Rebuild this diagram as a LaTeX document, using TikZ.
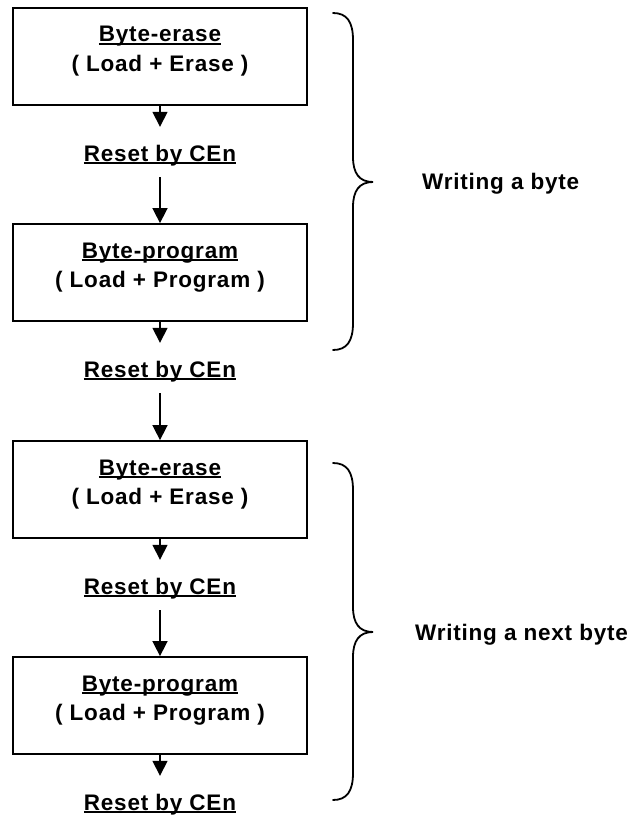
\documentclass[tikz,border=0pt]{standalone}
\usepackage{fontspec}
\setmainfont{Liberation Sans}[LetterSpace=3.5]
\usetikzlibrary{arrows.meta}
\newcommand\myul[1]{\setbox0\hbox{#1}\rlap{\rule[-3pt]{\wd0}{2pt}}\box0}
\begin{document}
\begin{tikzpicture}[x=1pt,y=-1pt,
  every node/.style={font=\fontsize{22.5}{29}\selectfont\bfseries},
  stepbox/.style={draw, line width=1.8pt, minimum width=294pt, minimum height=97pt, inner sep=0pt},
  txtline/.style={anchor=base, inner sep=0pt},
  resetlbl/.style={anchor=base, inner sep=0pt, text height=17pt, text depth=5pt},
  arr/.style={line width=1.6pt, -{Triangle[width=15pt,length=15pt]}},
  bracepath/.style={line width=1.8pt, line cap=round}]
\useasboundingbox (0,0) rectangle (628,816);

% first group
\node[stepbox] (b1) at (160,56.5) {};
\node[txtline] (b1a) at (160,42) {\myul{Byte-erase}};
\node[txtline] (b1b) at (160,71) {( Load + Erase )};
\node[resetlbl] (r1) at (160,161) {\myul{Reset by CEn}};

\node[stepbox] (b2) at (160,272.5) {};
\node[txtline] (b2a) at (160,258) {\myul{Byte-program}};
\node[txtline] (b2b) at (160,287) {( Load + Program )};
\node[resetlbl] (r2) at (160,377) {\myul{Reset by CEn}};

% second group
\node[stepbox] (b3) at (160,489.5) {};
\node[txtline] (b3a) at (160,475) {\myul{Byte-erase}};
\node[txtline] (b3b) at (160,504) {( Load + Erase )};
\node[resetlbl] (r3) at (160,594) {\myul{Reset by CEn}};

\node[stepbox] (b4) at (160,705.5) {};
\node[txtline] (b4a) at (160,691) {\myul{Byte-program}};
\node[txtline] (b4b) at (160,720) {( Load + Program )};
\node[resetlbl] (r4) at (160,810) {\myul{Reset by CEn}};

% connectors
\draw[arr, shorten >=17pt] (b1) -- (r1);
\draw[arr, shorten <=11pt] (r1) -- (b2);
\draw[arr, shorten >=17pt] (b2) -- (r2);
\draw[arr, shorten <=11pt] (r2) -- (b3);
\draw[arr, shorten >=17pt] (b3) -- (r3);
\draw[arr, shorten <=11pt] (r3) -- (b4);
\draw[arr, shorten >=17pt] (b4) -- (r4);

% braces
\draw[bracepath] (333,13) .. controls (347,13) and (353,22) .. (353,40) -- (353,157)
  .. controls (353,173) and (359,182) .. (373,182)
  .. controls (359,182) and (353,191) .. (353,207) -- (353,323)
  .. controls (353,341) and (347,350) .. (333,350);
\draw[bracepath] (333,463) .. controls (347,463) and (353,472) .. (353,490) -- (353,607)
  .. controls (353,623) and (359,632) .. (373,632)
  .. controls (359,632) and (353,641) .. (353,657) -- (353,773)
  .. controls (353,791) and (347,800) .. (333,800);

\node[anchor=base west, inner sep=0pt] (g1) at (422,189) {Writing a byte};
\node[anchor=base west, inner sep=0pt] (g2) at (415,640) {Writing a next byte};
\end{tikzpicture}
\end{document}
